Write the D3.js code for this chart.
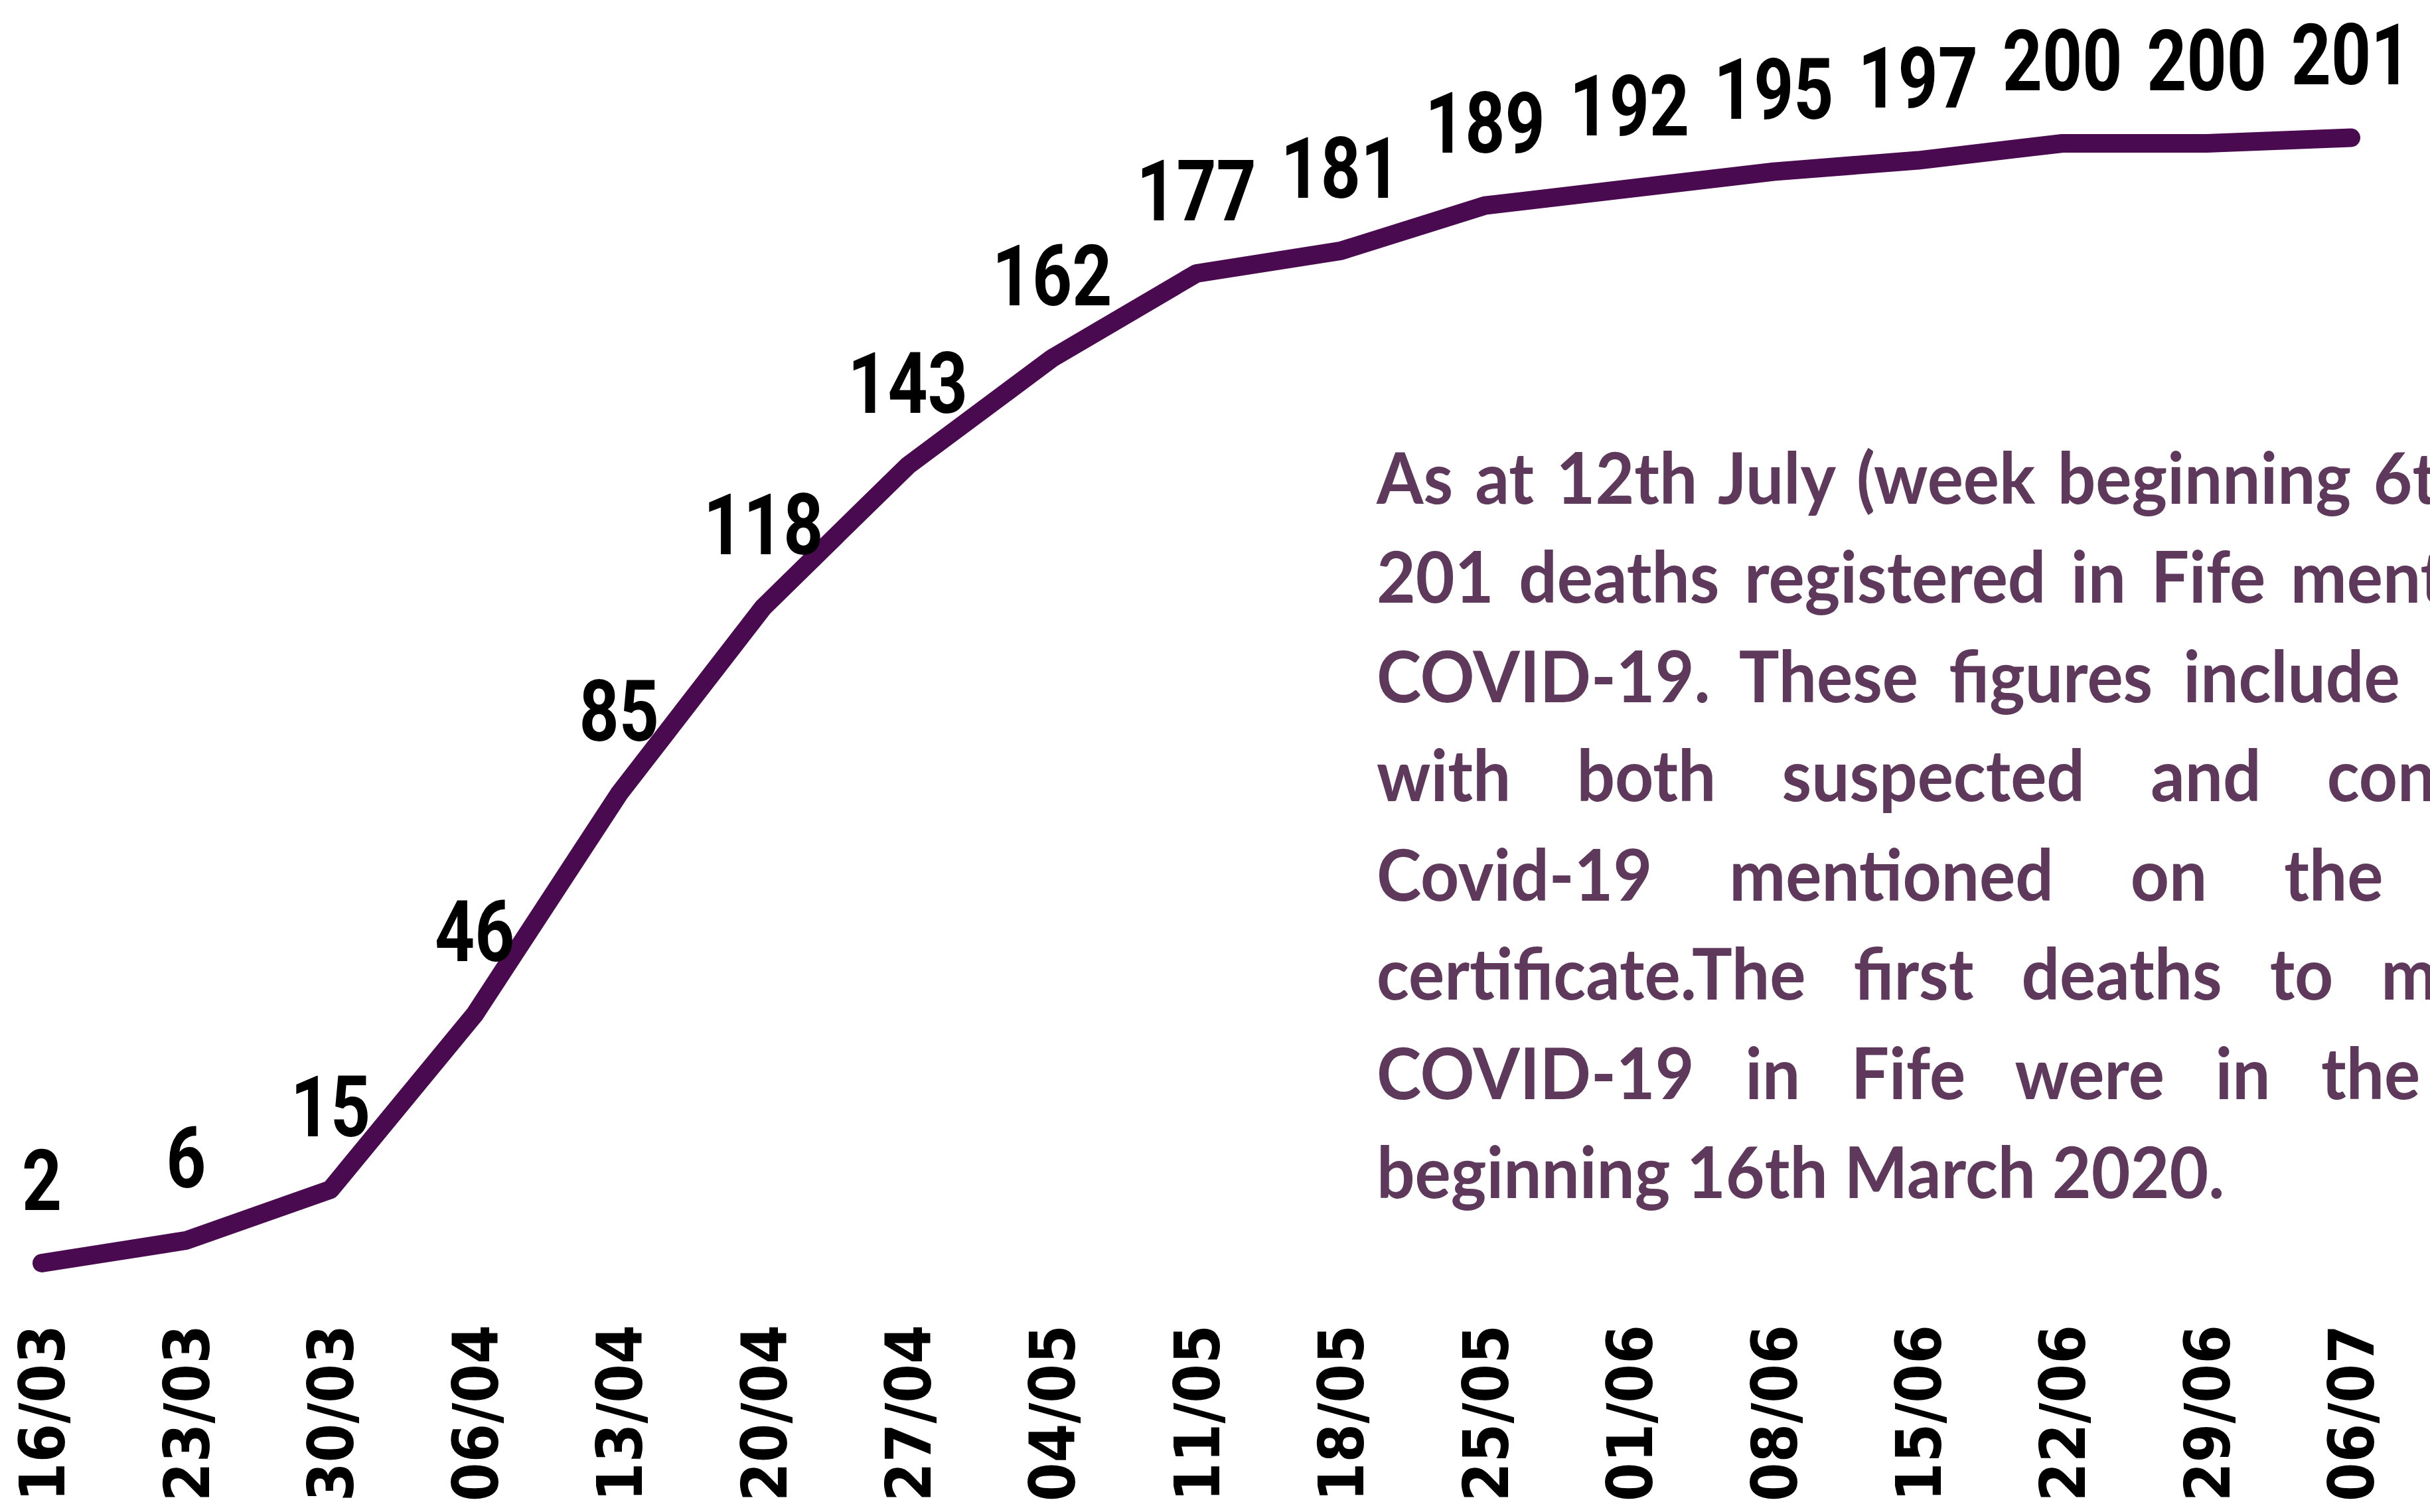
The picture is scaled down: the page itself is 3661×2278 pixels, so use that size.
<!DOCTYPE html>
<html>
<head>
<meta charset="utf-8">
<script src="https://cdn.jsdelivr.net/npm/d3@7"></script>
<style>
  body { margin: 0; background: #fff; }
  svg { display: block; }
</style>
</head>
<body>
<svg id="chart"></svg>
<script>
const WEEKS = ['16/03', '23/03', '30/03', '06/04', '13/04', '20/04', '27/04', '04/05', '11/05',
  '18/05', '25/05', '01/06', '08/06', '15/06', '22/06', '29/06', '06/07'];
const DEATHS = [2, 6, 15, 46, 85, 118, 143, 162, 177, 181, 189, 192, 195, 197, 200, 200, 201];
const NOTE_LINES = [
  'As at 12th July (week beginning 6th July)',
  '201 deaths registered in Fife mentioning',
  'COVID-19. These figures include deaths',
  'with both suspected and confirmed',
  'Covid-19 mentioned on the death',
  'certificate.The first deaths to mention',
  'COVID-19 in Fife were in the week',
  'beginning 16th March 2020.'
];

const WIDTH = 3661;
const HEIGHT = 2278;
const AXIS_Y = 1996;
const NOTE = { x: 2074, y: 759, lh: 149.5, w: 1890, squeeze: 0.94 };
const LABEL_SQUEEZE = 0.82;

const svg = d3.select('#chart')
  .attr('width', WIDTH)
  .attr('height', HEIGHT);

svg.append('rect').attr('width', WIDTH).attr('height', HEIGHT).attr('fill', '#fff');

const x = d3.scalePoint()
  .domain(WEEKS)
  .range([63, 3542]);

const y = d3.scaleLinear()
  .domain([0, 200])
  .range([1920, 216]);

const line = d3.line()
  .x((d, i) => x(WEEKS[i]))
  .y(d => y(d));

svg.append('path')
  .datum(DEATHS)
  .attr('d', line)
  .attr('fill', 'none')
  .attr('stroke', '#4a0a50')
  .attr('stroke-width', 28)
  .attr('stroke-linecap', 'round')
  .attr('stroke-linejoin', 'round');

// value labels above each point (narrow bold figures)
svg.append('g')
  .selectAll('text')
  .data(DEATHS)
  .join('text')
  .attr('transform', (d, i) => `translate(${x(WEEKS[i])},${y(d) - 80}) scale(${LABEL_SQUEEZE},1)`)
  .attr('text-anchor', 'middle')
  .attr('font-family', 'Roboto, sans-serif')
  .attr('font-weight', 700)
  .attr('font-size', 128)
  .attr('fill', '#000')
  .text(d => d);

// week labels, rotated
const xAxis = svg.append('g')
  .attr('transform', `translate(0,${AXIS_Y})`)
  .call(d3.axisBottom(x).tickSize(0).tickPadding(0))
  .attr('font-family', "'DejaVu Sans Condensed', 'DejaVu Sans', sans-serif")
  .attr('font-size', 94)
  .attr('font-weight', 700)
  .attr('color', '#000');
xAxis.select('.domain').remove();
xAxis.selectAll('text')
  .attr('transform', 'rotate(-90)')
  .attr('text-anchor', 'end')
  .attr('x', 0)
  .attr('y', 0)
  .attr('dy', '0.36em')
  .style('font-stretch', 'condensed');

// justified note text on the right
const note = svg.append('g')
  .attr('transform', `translate(${NOTE.x},0) scale(${NOTE.squeeze},1)`)
  .attr('font-family', 'Lato, sans-serif')
  .attr('font-weight', 700)
  .attr('font-size', 108)
  .attr('fill', '#5f395b');

note.selectAll('text')
  .data(NOTE_LINES)
  .join('text')
  .attr('x', 0)
  .attr('y', (d, i) => NOTE.y + i * NOTE.lh)
  .text(d => d)
  .each(function (d, i) {
    if (i === NOTE_LINES.length - 1) return;
    const gaps = d.split(' ').length - 1;
    const extra = NOTE.w / NOTE.squeeze - this.getComputedTextLength();
    if (gaps > 0 && extra > 0) d3.select(this).style('word-spacing', (extra / gaps) + 'px');
  });
</script>
</body>
</html>
